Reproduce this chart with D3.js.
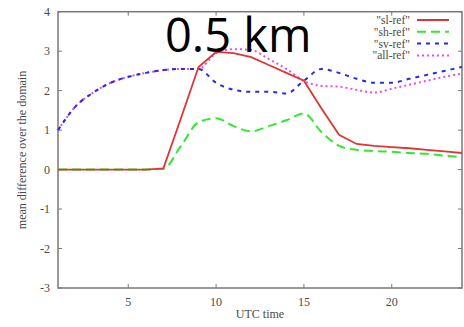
<!DOCTYPE html>
<html><head><meta charset="utf-8">
<script src="https://cdn.jsdelivr.net/npm/d3@7"></script>
<style>body{margin:0;background:#fff}svg{display:block}</style>
</head><body>
<script>
const hours = d3.range(1, 25);
const slRef  = [0,0,0,0,0,0,0.03,1.3,2.6,2.98,2.95,2.85,2.65,2.45,2.25,1.55,0.88,0.65,0.6,0.57,0.54,0.5,0.46,0.42];
const shRef  = [0,0,0,0,0,0,0.02,0.6,1.2,1.3,1.1,0.97,1.1,1.25,1.42,0.95,0.6,0.5,0.47,0.45,0.42,0.4,0.35,0.32];
const svRef  = [1.0,1.6,1.95,2.2,2.35,2.45,2.52,2.55,2.55,2.2,2.02,1.97,1.97,1.93,2.25,2.55,2.45,2.3,2.2,2.2,2.3,2.4,2.5,2.6];
const allRef = [1.0,1.6,1.95,2.2,2.35,2.45,2.52,2.55,2.55,2.95,3.05,3.03,2.8,2.55,2.25,2.12,2.1,2.02,1.95,2.05,2.15,2.25,2.35,2.43];
const xTicks = [5, 10, 15, 20];
const yTicks = [-3, -2, -1, 0, 1, 2, 3, 4];
const seriesNames = ['"sl-ref"', '"sh-ref"', '"sv-ref"', '"all-ref"'];
const seriesValues = [slRef, shRef, svRef, allRef];
const seriesColors = ["#e03535", "#33e833", "#2b2bd8", "#e94de9"];
const seriesDash = [null, "9,5", "4,5", "2,3"];

const W = 464, H = 327;
const svg = d3.select("body").append("svg").attr("width", W).attr("height", H);
const L = 58, R = 462, T = 11.7, B = 288;
const x = d3.scaleLinear().domain([1, 24]).range([L, R]);
const y = d3.scaleLinear().domain([-3, 4]).range([B, T]);
const textCol = "#4a4a4a", axisCol = "#777";
const serif = "'Liberation Serif', 'Times New Roman', serif";

// ticks (inward, mirrored)
const g = svg.append("g");
g.selectAll(".xt").data(xTicks).join("g").each(function(d){
  const s = d3.select(this);
  s.append("line").attr("x1", x(d)).attr("x2", x(d)).attr("y1", B).attr("y2", B-4).attr("stroke", axisCol);
  s.append("line").attr("x1", x(d)).attr("x2", x(d)).attr("y1", T).attr("y2", T+4).attr("stroke", axisCol);
  s.append("text").attr("x", x(d)).attr("y", B+18).attr("text-anchor", "middle")
    .attr("font-family", serif).attr("font-size", 12).attr("fill", textCol).text(d);
});
g.selectAll(".yt").data(yTicks).join("g").each(function(d){
  const s = d3.select(this);
  s.append("line").attr("x1", L).attr("x2", L+4).attr("y1", y(d)).attr("y2", y(d)).attr("stroke", axisCol);
  s.append("line").attr("x1", R).attr("x2", R-4).attr("y1", y(d)).attr("y2", y(d)).attr("stroke", axisCol);
  s.append("text").attr("x", L-8).attr("y", y(d)+4).attr("text-anchor", "end")
    .attr("font-family", serif).attr("font-size", 12).attr("fill", textCol).text(d);
});
svg.append("rect").attr("x", L).attr("y", T).attr("width", R-L).attr("height", B-T)
  .attr("fill", "none").attr("stroke", axisCol).attr("stroke-width", 1.5);

svg.append("text").attr("x", (L+R)/2).attr("y", 318).attr("text-anchor", "middle")
  .attr("font-family", serif).attr("font-size", 12).attr("fill", textCol).text("UTC time");
svg.append("text").attr("transform", "translate(26,150) rotate(-90)").attr("text-anchor", "middle")
  .attr("font-family", serif).attr("font-size", 12).attr("fill", textCol).text("mean difference over the domain");

// lines
const lineLin = d3.line().x((d,i) => x(hours[i])).y(d => y(d));
const lineSm = d3.line().x((d,i) => x(hours[i])).y(d => y(d)).curve(d3.curveMonotoneX);
const order = [3, 2, 1, 0];
order.forEach(k => {
  svg.append("path").attr("d", (k === 0 ? lineLin : lineSm)(seriesValues[k]))
    .attr("fill", "none").attr("stroke", seriesColors[k]).attr("stroke-width", k === 0 ? 1.8 : 2)
    .attr("stroke-dasharray", seriesDash[k]);
});

// legend
seriesNames.forEach((n, k) => {
  const yy = 20 + k * 11.8;
  svg.append("text").attr("x", 410).attr("y", yy + 4).attr("text-anchor", "end")
    .attr("font-family", serif).attr("font-size", 11.5).attr("fill", textCol).text(n);
  svg.append("line").attr("x1", 417).attr("x2", 449).attr("y1", yy).attr("y2", yy)
    .attr("stroke", seriesColors[k]).attr("stroke-width", 2).attr("stroke-dasharray", seriesDash[k]);
});

// title
svg.append("text").attr("x", 165).attr("y", 52).attr("font-family", "'Open Sans', sans-serif")
  .attr("font-size", 47).attr("fill", "#000").text("0.5 km");
</script>
</body></html>
